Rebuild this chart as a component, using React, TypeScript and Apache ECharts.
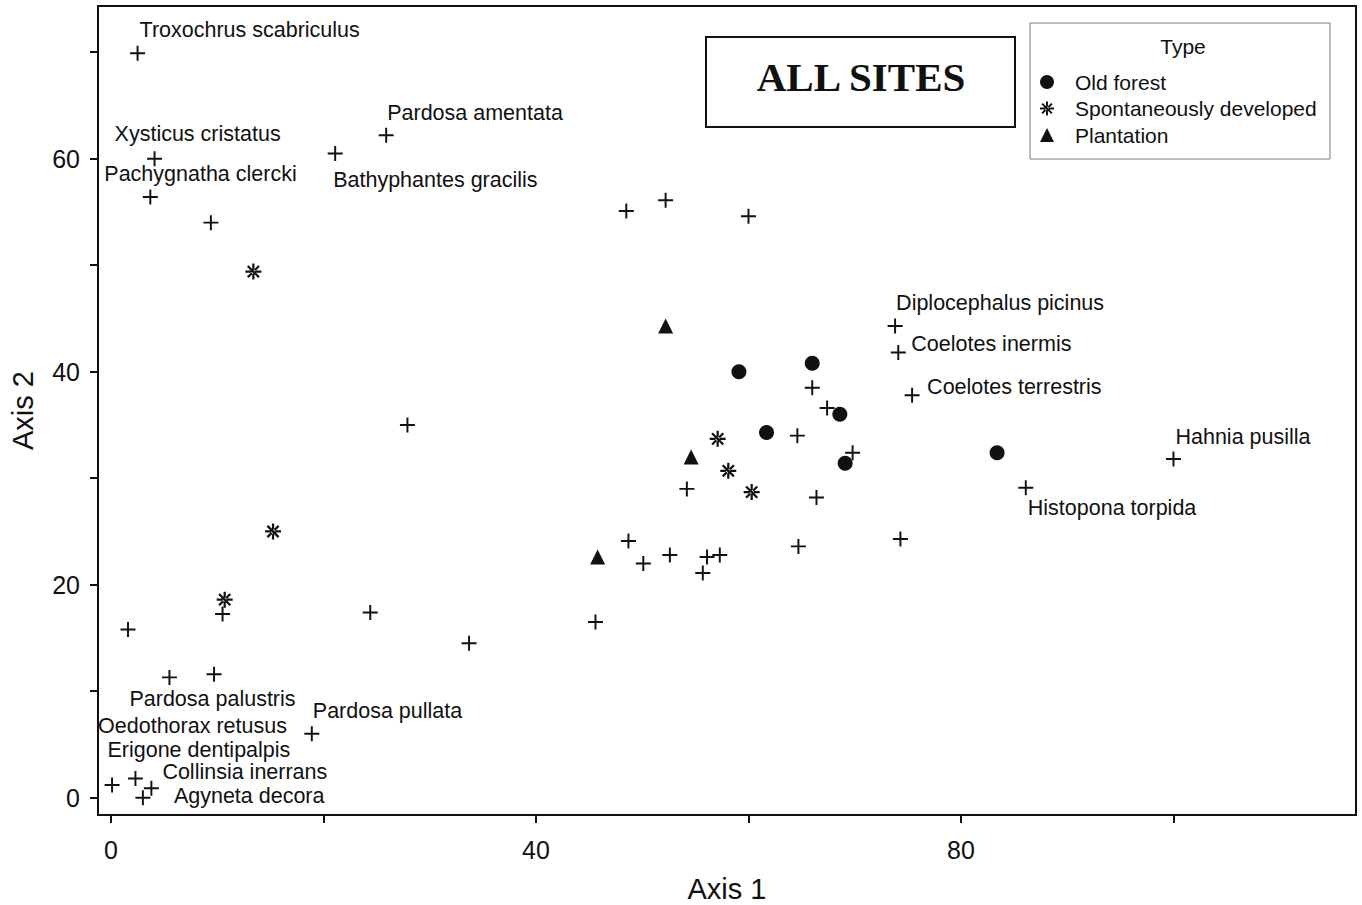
import React, { useEffect, useRef } from "react";
import * as echarts from "echarts";

// Species scores on the first two ordination axes
const LABELED_SPECIES: string[] = [
  "Troxochrus scabriculus",
  "Xysticus cristatus",
  "Pachygnatha clercki",
  "Bathyphantes gracilis",
  "Pardosa amentata",
  "Diplocephalus picinus",
  "Coelotes inermis",
  "Coelotes terrestris",
  "Hahnia pusilla",
  "Histopona torpida",
  "Pardosa palustris",
  "Pardosa pullata",
  "Oedothorax retusus",
  "Erigone dentipalpis",
  "Collinsia inerrans",
  "Agyneta decora",
];
const LABELED_SPECIES_XY: [number, number][] = [
  [2.5, 69.9],
  [4.1, 60.0],
  [3.7, 56.4],
  [21.1, 60.5],
  [25.9, 62.2],
  [73.8, 44.3],
  [74.1, 41.8],
  [75.4, 37.8],
  [100.0, 31.8],
  [86.1, 29.1],
  [5.5, 11.3],
  [18.9, 6.0],
  [0.1, 1.2],
  [2.3, 1.8],
  [3.8, 0.9],
  [3.0, 0.0],
];
const OTHER_SPECIES_XY: [number, number][] = [
  [9.4, 54.0],
  [48.5, 55.1],
  [52.2, 56.1],
  [60.0, 54.6],
  [66.0, 38.5],
  [67.4, 36.6],
  [64.6, 34.0],
  [69.8, 32.4],
  [54.2, 29.0],
  [66.4, 28.2],
  [48.7, 24.1],
  [64.7, 23.6],
  [74.3, 24.3],
  [50.1, 22.0],
  [52.6, 22.8],
  [56.1, 22.6],
  [57.3, 22.8],
  [55.7, 21.1],
  [27.9, 35.0],
  [10.5, 17.25],
  [1.6, 15.8],
  [24.4, 17.4],
  [33.7, 14.5],
  [45.6, 16.5],
  [9.7, 11.6],
];

// Site scores by forest type
const OLD_FOREST: [number, number][] = [
  [59.1, 40.0],
  [66.0, 40.8],
  [68.6, 36.0],
  [61.7, 34.3],
  [69.1, 31.4],
  [83.4, 32.4],
];
const SPONTANEOUS: [number, number][] = [
  [13.4, 49.4],
  [15.25, 25.0],
  [10.7, 18.6],
  [57.1, 33.7],
  [58.1, 30.7],
  [60.3, 28.7],
];
const PLANTATION: [number, number][] = [
  [52.2, 44.3],
  [54.6, 32.0],
  [45.8, 22.6],
];

const SITE_TYPES = ["Old forest", "Spontaneously developed", "Plantation"];

const X_TICKS = [0, 20, 40, 60, 80, 100];
const X_LABELS = [0, 40, 80];
const Y_TICKS = [0, 10, 20, 30, 40, 50, 60, 70];
const Y_LABELS = [0, 20, 40, 60];

// Pixel offsets of each species name from its marker (left edge, vertical middle)
const LABEL_OFFSETS: Record<string, [number, number]> = {
  "Troxochrus scabriculus": [2, -23],
  "Xysticus cristatus": [-40, -25],
  "Pachygnatha clercki": [-46, -23],
  "Bathyphantes gracilis": [-2, 27],
  "Pardosa amentata": [1, -22],
  "Diplocephalus picinus": [1, -23],
  "Coelotes inermis": [13, -9],
  "Coelotes terrestris": [15, -8],
  "Hahnia pusilla": [2, -22],
  "Histopona torpida": [2, 20],
  "Pardosa palustris": [-40, 22],
  "Pardosa pullata": [1, -23],
  "Oedothorax retusus": [-14, -59],
  "Erigone dentipalpis": [-28, -29],
  "Collinsia inerrans": [11, -16],
  "Agyneta decora": [31, -2],
};

const INK = "#111111";
const SANS = '"Liberation Sans", Arial, Helvetica, sans-serif';
const SERIF = '"Liberation Serif", "Times New Roman", Times, serif';

// Filled outlines so markers look identical in plot and legend
const PLUS_SYMBOL =
  "path://M-1 -0.13H1V0.13H-1Z M-0.13 -1H0.13V1H-0.13Z";
const STAR_SYMBOL =
  "path://M-1 -0.14H1V0.14H-1Z M-0.14 -1H0.14V1H-0.14Z " +
  "M-0.6 -0.8L0.8 0.6L0.6 0.8L-0.8 -0.6Z " +
  "M-0.6 0.8L0.8 -0.6L0.6 -0.8L-0.8 0.6Z";

export default function App() {
  const ref = useRef<HTMLDivElement>(null);

  useEffect(() => {
    if (!ref.current) return;
    const chart = echarts.init(ref.current, undefined, { renderer: "svg" });

    const speciesData = [
      ...LABELED_SPECIES.map((name, i) => ({
        name,
        value: LABELED_SPECIES_XY[i],
        label: {
          show: true,
          formatter: name,
          position: "inside" as const,
          align: "left" as const,
          verticalAlign: "middle" as const,
          offset: LABEL_OFFSETS[name],
        },
      })),
      ...OTHER_SPECIES_XY.map((v) => ({ value: v })),
    ];

    chart.setOption({
      animation: false,
      backgroundColor: "#ffffff",
      textStyle: { fontFamily: SANS, color: INK },
      grid: {
        left: 98,
        width: 1258,
        top: 6,
        height: 809,
        show: true,
        borderColor: INK,
        borderWidth: 2,
        containLabel: false,
        outerBoundsMode: "none",
      },
      xAxis: {
        type: "value",
        min: -1.224,
        max: 117.18,
        name: "Axis 1",
        nameLocation: "middle",
        nameGap: 61,
        nameTextStyle: { fontSize: 29, lineHeight: 26, color: INK, fontFamily: SANS },
        axisLine: { show: true, onZero: false, lineStyle: { color: INK, width: 2 } },
        axisTick: {
          show: true,
          length: 8,
          lineStyle: { color: INK, width: 2 },
          customValues: X_TICKS,
        },
        axisLabel: {
          show: true,
          fontSize: 25,
          color: INK,
          margin: 22,
          fontFamily: SANS,
          customValues: X_LABELS,
        },
        splitLine: { show: false },
      },
      yAxis: {
        type: "value",
        min: -1.62,
        max: 74.34,
        name: "Axis 2",
        nameLocation: "middle",
        nameGap: 61,
        nameTextStyle: { fontSize: 29, color: INK, fontFamily: SANS },
        axisLine: { show: true, onZero: false, lineStyle: { color: INK, width: 2 } },
        axisTick: {
          show: true,
          length: 8,
          lineStyle: { color: INK, width: 2 },
          customValues: Y_TICKS,
        },
        axisLabel: {
          show: true,
          fontSize: 25,
          color: INK,
          margin: 18,
          fontFamily: SANS,
          customValues: Y_LABELS,
        },
        splitLine: { show: false },
      },
      legend: {
        data: SITE_TYPES,
        orient: "vertical",
        left: 1040,
        top: 71.5,
        padding: 0,
        itemWidth: 14,
        itemHeight: 14,
        itemGap: 5.5,
        z: 5,
        itemStyle: { opacity: 1 },
        textStyle: {
          fontSize: 21,
          color: INK,
          fontFamily: SANS,
          padding: [0, 0, 0, 16],
        },
      },
      graphic: [
        {
          type: "rect",
          z: 1,
          shape: { x: 706, y: 37, width: 309, height: 90 },
          style: { fill: "#ffffff", stroke: INK, lineWidth: 2 },
        },
        {
          type: "text",
          z: 2,
          x: 861,
          y: 77,
          style: {
            text: "ALL SITES",
            font: `bold 41px ${SERIF}`,
            fill: INK,
            align: "center",
            verticalAlign: "middle",
          },
        },
        {
          type: "rect",
          z: 1,
          shape: { x: 1030, y: 23, width: 300, height: 136 },
          style: { fill: "#ffffff", stroke: "#7a7a7a", lineWidth: 1 },
        },
        {
          type: "text",
          z: 2,
          x: 1183,
          y: 46,
          style: {
            text: "Type",
            font: `21px ${SANS}`,
            fill: INK,
            align: "center",
            verticalAlign: "middle",
          },
        },
      ],
      series: [
        {
          name: "Species",
          type: "scatter",
          symbol: PLUS_SYMBOL,
          symbolSize: 15,
          itemStyle: { color: INK, opacity: 1 },
          label: {
            show: false,
            fontSize: 21.5,
            lineHeight: 18,
            color: INK,
            fontFamily: SANS,
          },
          data: speciesData,
          z: 3,
        },
        {
          name: SITE_TYPES[0],
          type: "scatter",
          symbol: "circle",
          symbolSize: 15,
          itemStyle: { color: INK, opacity: 1 },
          data: OLD_FOREST,
          z: 4,
        },
        {
          name: SITE_TYPES[1],
          type: "scatter",
          symbol: STAR_SYMBOL,
          symbolSize: 16,
          itemStyle: { color: INK, opacity: 1 },
          data: SPONTANEOUS,
          z: 4,
        },
        {
          name: SITE_TYPES[2],
          type: "scatter",
          symbol: "triangle",
          symbolSize: 15,
          itemStyle: { color: INK, opacity: 1 },
          data: PLANTATION,
          z: 4,
        },
      ],
    });

    return () => chart.dispose();
  }, []);

  return (
    <div
      ref={ref}
      style={{
        position: "fixed",
        left: 0,
        top: 0,
        width: 1362,
        height: 905,
        background: "#ffffff",
      }}
    />
  );
}
